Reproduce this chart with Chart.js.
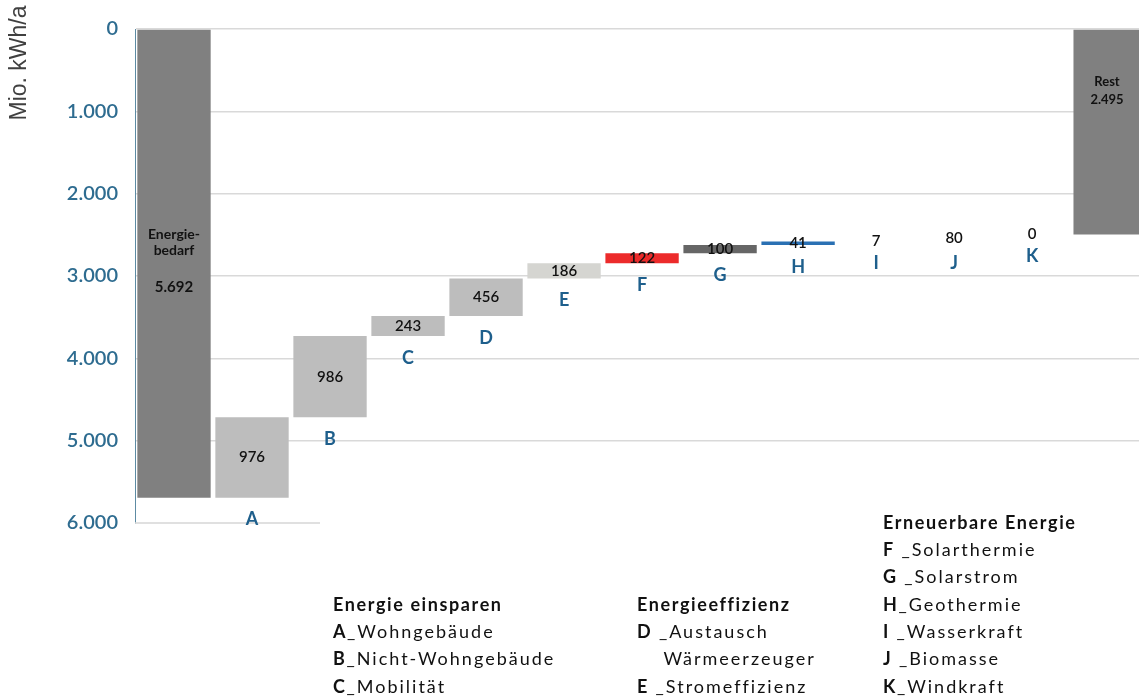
<!DOCTYPE html>
<html lang="de">
<head>
<meta charset="utf-8">
<title>Energiebedarf Wasserfall</title>
<script src="https://cdn.jsdelivr.net/npm/chart.js@4.4.1/dist/chart.umd.min.js"></script>
<style>
  html, body { margin: 0; padding: 0; background: #ffffff; }
  #wrap { position: relative; width: 1139px; height: 700px; }
</style>
</head>
<body>
<div id="wrap"><canvas id="wfChart" width="1139" height="700"></canvas></div>
<script>
// Categories (first = total demand, last = remainder)
const categories = ['Energiebedarf', 'A', 'B', 'C', 'D', 'E', 'F', 'G', 'H', 'I', 'J', 'K', 'Rest'];
// Values in Mio. kWh/a
const values = [5692, 976, 986, 243, 456, 186, 122, 100, 41, 7, 80, 0, 2495];
// Value labels as printed
const valueLabels = ['5.692', '976', '986', '243', '456', '186', '122', '100', '41', '7', '80', '0', '2.495'];
const barColors = ['#808080', '#bdbdbd', '#bdbdbd', '#bdbdbd', '#bdbdbd', '#d5d5d1', '#ec2b2b',
  '#666666', '#2a70b3', 'rgba(0,0,0,0)', 'rgba(0,0,0,0)', 'rgba(0,0,0,0)', '#808080'];
const yTicks = [0, 1000, 2000, 3000, 4000, 5000, 6000];

// Legend blocks below the chart
const legendGroups = [
  { x: 333, y: 605, title: 'Energie einsparen', rows: [['A', '_Wohngebäude'], ['B', '_Nicht-Wohngebäude'], ['C', '_Mobilität']] },
  { x: 637, y: 605, title: 'Energieeffizienz', rows: [['D', ' _Austausch'], ['', '    Wärmeerzeuger'], ['E', ' _Stromeffizienz']] },
  { x: 883, y: 523, title: 'Erneuerbare Energie', rows: [['F', ' _Solarthermie'], ['G', ' _Solarstrom'], ['H', '_Geothermie'],
    ['I', ' _Wasserkraft'], ['J', ' _Biomasse'], ['K', '_Windkraft']] }
];

// build floating bars from the step values
const floating = [];
let level = values[0];
floating.push([0, values[0]]);
for (let i = 1; i < values.length - 1; i++) {
  floating.push([level - values[i], level]);
  level -= values[i];
}
floating.push([0, values[values.length - 1]]);

const tickColor = '#2e6c90';
const letterColor = '#1e5f8c';

const labelPlugin = {
  id: 'wfLabels',
  beforeDatasetsDraw(chart) {
    // short base line at 6.000
    const ctx = chart.ctx;
    const y = chart.scales.y.getPixelForValue(6000);
    ctx.save();
    ctx.strokeStyle = '#d6d6d6';
    ctx.lineWidth = 1.5;
    ctx.beginPath();
    ctx.moveTo(chart.chartArea.left, y);
    ctx.lineTo(320, y);
    ctx.stroke();
    ctx.restore();
  },
  afterDatasetsDraw(chart) {
    const ctx = chart.ctx;
    const meta = chart.getDatasetMeta(0);
    ctx.save();
    ctx.textAlign = 'center';
    ctx.textBaseline = 'middle';
    meta.data.forEach((bar, i) => {
      const top = Math.min(bar.y, bar.base);
      const bottom = Math.max(bar.y, bar.base);
      if (i === 0) {
        ctx.fillStyle = '#111';
        ctx.font = 'bold 14px Lato';
        ctx.fillText('Energie-', bar.x, 234);
        ctx.fillText('bedarf', bar.x, 250);
        ctx.font = 'bold 15px Lato';
        ctx.fillText(valueLabels[i], bar.x, 287);
        return;
      }
      if (i === categories.length - 1) {
        ctx.fillStyle = '#111';
        ctx.font = 'bold 13px Lato';
        ctx.fillText('Rest', 1107, 82);
        ctx.fillText(valueLabels[i], 1107, 100);
        return;
      }
      ctx.fillStyle = '#111';
      ctx.font = '600 15px Lato';
      ctx.fillText(valueLabels[i], bar.x, (top + bottom) / 2);
      ctx.fillStyle = letterColor;
      ctx.font = 'bold 18px Lato';
      ctx.fillText(categories[i], bar.x, bottom + 22);
    });

    // axis unit
    ctx.save();
    ctx.translate(20, 63);
    ctx.rotate(-Math.PI / 2);
    ctx.fillStyle = '#404040';
    ctx.font = '23px "Liberation Sans"';
    ctx.fillText('Mio. kWh/a', 0, 0);
    ctx.restore();

    // legend blocks
    ctx.textAlign = 'left';
    ctx.fillStyle = '#111';
    legendGroups.forEach(g => {
      ctx.font = 'bold 18px Lato';
      ctx.letterSpacing = '1.6px';
      ctx.fillText(g.title, g.x, g.y);
      g.rows.forEach((r, k) => {
        const yy = g.y + (k + 1) * 27.3;
        ctx.font = 'bold 18px Lato';
        ctx.letterSpacing = '1.6px';
        ctx.fillText(r[0], g.x, yy);
        const w = ctx.measureText(r[0]).width;
        ctx.font = '18px Lato';
        ctx.letterSpacing = '2px';
        ctx.fillText(r[1], g.x + w, yy);
      });
    });
    ctx.letterSpacing = '0px';
    ctx.restore();
  }
};

const chart = new Chart(document.getElementById('wfChart').getContext('2d'), {
  type: 'bar',
  data: {
    datasets: [{
      data: floating.map((v, i) => ({ x: i, y: v })),
      backgroundColor: barColors,
      borderWidth: 0,
      barPercentage: 0.94,
      categoryPercentage: 1
    }]
  },
  options: {
    responsive: false,
    animation: false,
    layout: { padding: { top: 20, bottom: 177, left: 0, right: 0 } },
    plugins: { legend: { display: false }, tooltip: { enabled: false } },
    scales: {
      x: {
        type: 'linear',
        display: false,
        offset: false,
        min: -0.5,
        max: 12.37
      },
      y: {
        reverse: true,
        min: 0,
        max: 6000,
        afterFit(scale) { scale.width = 135; },
        afterBuildTicks(scale) { scale.ticks = yTicks.map(v => ({ value: v })); },
        grid: {
          drawTicks: false,
          lineWidth: 1.5,
          color: ctx => (ctx.tick && ctx.tick.value === 6000) ? 'rgba(0,0,0,0)' : '#d9d9d9'
        },
        border: { display: true, color: '#5d8ba3', width: 1 },
        ticks: {
          padding: 17,
          color: tickColor,
          font: { family: 'Lato', size: 20, weight: '600' },
          callback: v => v.toLocaleString('de-DE')
        }
      }
    }
  },
  plugins: [labelPlugin]
});
</script>
</body>
</html>
